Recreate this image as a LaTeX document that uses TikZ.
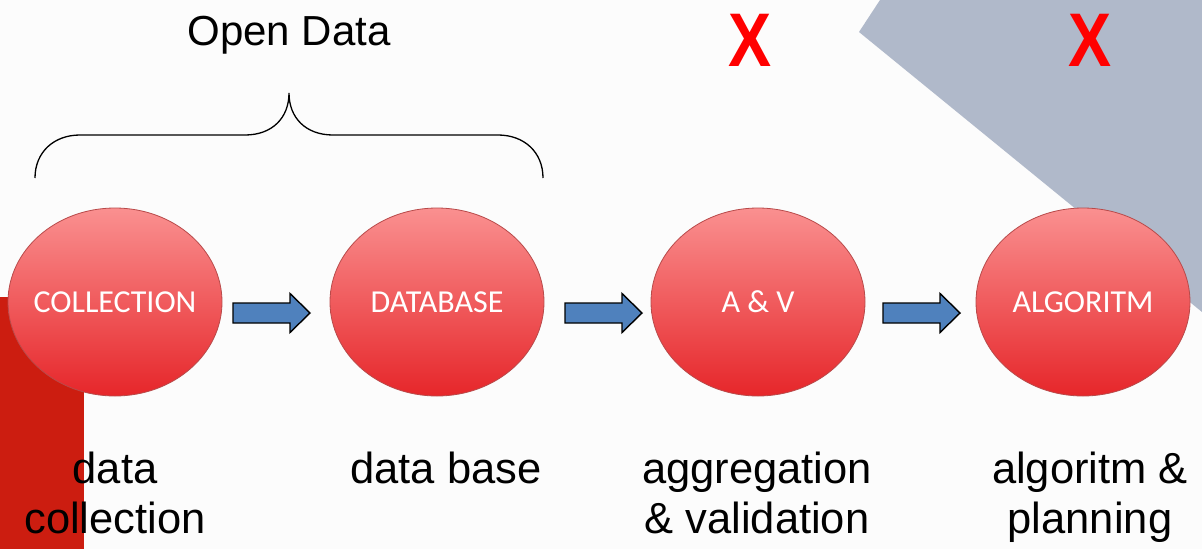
\documentclass[tikz,border=0pt]{standalone}
\usepackage{fontspec}
\setmainfont{Liberation Sans}
\newfontfamily\carlitofont{Carlito}
\usetikzlibrary{shapes.geometric}
\definecolor{bgcol}{HTML}{FCFCFC}
\definecolor{grayband}{HTML}{B0B9CA}
\definecolor{redbar}{HTML}{CC1D10}
\definecolor{balltop}{HTML}{FA9090}
\definecolor{ballbot}{HTML}{E6262A}
\definecolor{balledge}{HTML}{B84A4A}
\definecolor{arrowblue}{HTML}{4F81BD}
\definecolor{xred}{HTML}{FF0000}
\newcommand{\balltext}[1]{\makebox[0pt][c]{#1}}
\tikzset{
  ball/.style={ellipse, minimum width=214pt, minimum height=188pt, inner sep=0pt,
    top color=balltop, bottom color=ballbot, draw=balledge, line width=0.8pt,
    text=white, font=\carlitofont\fontsize{32}{36}\selectfont},
  biglabel/.style={align=center, font=\fontsize{43.5}{50}\selectfont, inner sep=0pt, anchor=north},
  crossmark/.style={text=xred, font=\bfseries\fontsize{76}{80}\selectfont, xscale=0.85, transform shape, inner sep=0pt},
  blockarrow/.pic={\draw[fill=arrowblue, draw=black, line width=1.4pt]
    (0,-10) -- (57,-10) -- (57,-19.5) -- (77,0) -- (57,19.5) -- (57,10) -- (0,10) -- cycle;},
  bracestyle/.style={line width=1.3pt, black}
}
\begin{document}
\begin{tikzpicture}[x=1pt,y=-1pt]
\fill[bgcol] (0,0) rectangle (1202,549);
\useasboundingbox (0,0) rectangle (1202,549);
% background shapes
\fill[grayband] (880,0) -- (1202,0) -- (1202,312) -- (859,32) -- cycle;
\fill[redbar] (0,297) rectangle (84,549);
% balls
\node[ball] (c1) at (115,302) {\balltext{COLLECTION}};
\node[ball] (c2) at (437,302) {\balltext{DATABASE}};
\node[ball] (c3) at (758,302) {\balltext{A \& V}};
\node[ball] (c4) at (1083,302) {\balltext{ALGORITM}};
% block arrows
\pic at (233,313) {blockarrow};
\pic at (565,313) {blockarrow};
\pic at (883,313) {blockarrow};
% brace
\coordinate (bl) at (35,178);
\coordinate (bt) at (289,93);
\coordinate (br) at (543,178);
\draw[bracestyle] (bl) .. controls (35,152) and (54,135) .. (80,135) -- (245,135)
  .. controls (272,135) and (289,118) .. (bt)
  .. controls (289,118) and (306,135) .. (333,135) -- (498,135)
  .. controls (524,135) and (543,152) .. (br);
\node[font=\fontsize{42}{50}\selectfont] (od) at (289,35) {Open Data};
% crosses
\node[crossmark] (x1) at (750,40) {X};
\node[crossmark] (x2) at (1090,40) {X};
% labels
\node[biglabel] (l1) at (115,452) {data\\collection};
\node[biglabel] (l2) at (446,452) {data base};
\node[biglabel] (l3) at (757,452) {aggregation\\\& validation};
\node[biglabel] (l4) at (1090,452) {algoritm \&\\planning};
\end{tikzpicture}
\end{document}
